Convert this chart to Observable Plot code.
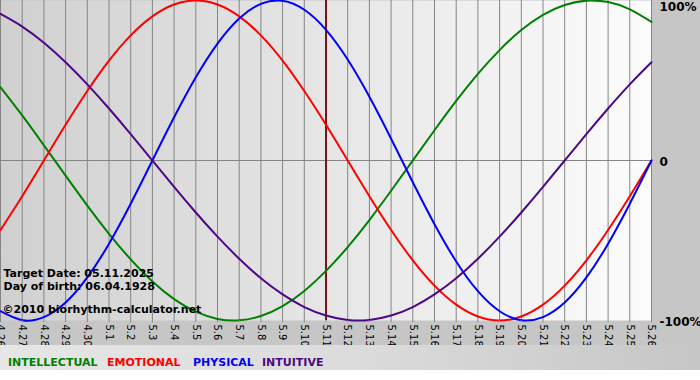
<!DOCTYPE html>
<html><head><meta charset="utf-8">
<script src="https://cdn.jsdelivr.net/npm/d3@7"></script>
<script src="https://cdn.jsdelivr.net/npm/@observablehq/plot@0.6"></script>
<style>
body{margin:0;background:#fff;font-family:"DejaVu Sans",sans-serif;}
#wrap{width:700px;}
#wrap svg{display:block;}
#legend{position:relative;width:700px;height:25px;background:linear-gradient(to right,#e6e6e6,#dcdcdc 50%,#c6c6c6);}
#legend span{position:absolute;top:11px;font-weight:bold;font-size:11px;font-family:"DejaVu Sans",sans-serif;line-height:normal;white-space:nowrap;}
</style></head>
<body>
<div id="wrap"></div>
<div id="legend"></div>
<script>
const dateLabels = ["4.26","4.27","4.28","4.29","4.30","5.1","5.2","5.3","5.4","5.5","5.6","5.7","5.8","5.9","5.10","5.11","5.12","5.13","5.14","5.15","5.16","5.17","5.18","5.19","5.20","5.21","5.22","5.23","5.24","5.25","5.26"];
const intellectual = [0.458,0.282,0.095,-0.095,-0.282,-0.458,-0.618,-0.756,-0.866,-0.945,-0.990,-0.999,-0.972,-0.910,-0.815,-0.690,-0.541,-0.372,-0.189,0.000,0.189,0.372,0.541,0.690,0.815,0.910,0.972,0.999,0.990,0.945,0.866];
const emotional = [-0.434,-0.223,0.000,0.223,0.434,0.624,0.782,0.901,0.975,1.000,0.975,0.901,0.782,0.624,0.434,0.223,0.000,-0.223,-0.434,-0.624,-0.782,-0.901,-0.975,-1.000,-0.975,-0.901,-0.782,-0.624,-0.434,-0.223,0.000];
const physical = [-0.942,-0.998,-0.979,-0.888,-0.731,-0.520,-0.270,0.000,0.270,0.520,0.731,0.888,0.979,0.998,0.942,0.817,0.631,0.398,0.136,-0.136,-0.398,-0.631,-0.817,-0.942,-0.998,-0.979,-0.888,-0.731,-0.520,-0.270,0.000];
const intuitive = [0.916,0.837,0.736,0.614,0.476,0.325,0.165,0.000,-0.165,-0.325,-0.476,-0.614,-0.736,-0.837,-0.916,-0.969,-0.997,-0.997,-0.969,-0.916,-0.837,-0.736,-0.614,-0.476,-0.325,-0.165,0.000,0.165,0.325,0.476,0.614];
const seriesNames = ["INTELLECTUAL","EMOTIONAL","PHYSICAL","INTUITIVE"];
const seriesColors = ["#008000","#ff0000","#0000ff","#4b0a82"];
const targetDate = "5.11";
const yTickValues = [1, 0, -1];
const yTickLabels = ["100%", "0", "-100%"];
const infoLines = ["Target Date: 05.11.2025", "Day of birth: 06.04.1928"];
const copyright = "©2010 biorhythm-calculator.net";

const seriesValues = [intellectual, emotional, physical, intuitive];
const rows = seriesValues.map((vals, s) => dateLabels.map((d, i) => ({date: d, value: vals[i], series: seriesNames[s]})));
const lastDate = dateLabels[dateLabels.length - 1];
const yLabel = d => yTickLabels[yTickValues.indexOf(d)];

const chart = Plot.plot({
  width: 700,
  height: 345,
  marginLeft: 0,
  marginRight: 49,
  marginTop: 0,
  marginBottom: 25,
  style: {background: "#c6c6c6", fontFamily: "DejaVu Sans", overflow: "visible"},
  x: {type: "point", domain: dateLabels, padding: 0, round: false},
  y: {domain: [-1, 1]},
  marks: [
    Plot.frame({fill: "url(#plotbg)"}),
    Plot.ruleX(dateLabels, {stroke: "#858585", strokeWidth: 1}),
    Plot.ruleY([0], {stroke: "#858585", strokeWidth: 1}),
    Plot.ruleX([targetDate], {stroke: "#7d1414", strokeWidth: 2}),
    ...rows.map((r, s) => Plot.line(r, {x: "date", y: "value", stroke: seriesColors[s], strokeWidth: 2, curve: "natural"})),
    Plot.text([infoLines[0]], {frameAnchor: "top-left", dx: 3, dy: 276, lineAnchor: "bottom", textAnchor: "start", fontWeight: "bold", fontSize: 11, fill: "#000"}),
    Plot.text([infoLines[1]], {frameAnchor: "top-left", dx: 3, dy: 289, lineAnchor: "bottom", textAnchor: "start", fontWeight: "bold", fontSize: 11, fill: "#000"}),
    Plot.text([copyright], {frameAnchor: "top-left", dx: 2, dy: 312, lineAnchor: "bottom", textAnchor: "start", fontWeight: "bold", fontSize: 11, fill: "#000"}),
    Plot.axisX({tickRotate: 90, tickSize: 2, tickPadding: 2, fontSize: 10, stroke: "#858585", color: "#000", label: null}),
    Plot.text(yTickValues, {filter: d => d === 1, x: () => lastDate, y: d => d, text: yLabel, textAnchor: "start", lineAnchor: "top", dx: 8, dy: 1.5, fontWeight: "bold", fontSize: 12, fill: "#000"}),
    Plot.text(yTickValues, {filter: d => d !== 1, x: () => lastDate, y: d => d, text: yLabel, textAnchor: "start", lineAnchor: "middle", dx: 8, dy: 2, fontWeight: "bold", fontSize: 12, fill: "#000"})
  ]
});
d3.select(chart).insert("defs", ":first-child").html('<linearGradient id="plotbg" x1="0" x2="1" y1="0" y2="0"><stop offset="0" stop-color="#d0d0d0"/><stop offset="1" stop-color="#fcfcfc"/></linearGradient>');
document.getElementById("wrap").appendChild(chart);

const legendLefts = [8, 107, 193, 262];
const legend = document.getElementById("legend");
seriesNames.forEach((n, i) => {
  const s = document.createElement("span");
  s.textContent = n;
  s.style.left = legendLefts[i] + "px";
  s.style.color = seriesColors[i];
  legend.appendChild(s);
});
</script>
</body></html>
